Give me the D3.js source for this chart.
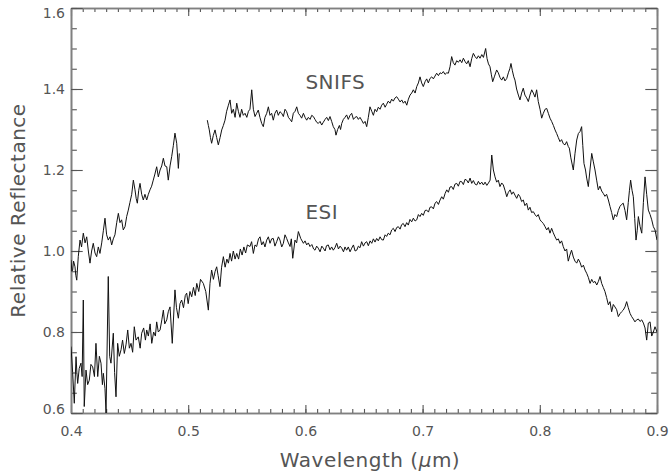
<!DOCTYPE html>
<html>
<head>
<meta charset="utf-8">
<script src="https://cdn.jsdelivr.net/npm/d3@7"></script>
<style>
  body { margin: 0; background: white; }
  svg { display: block; }
</style>
</head>
<body>
<div id="chart"></div>
<script>
// Axis ticks
const xMajor = [0.4, 0.5, 0.6, 0.7, 0.8, 0.9];
const xLabels = ["0.4", "0.5", "0.6", "0.7", "0.8", "0.9"];
const yMajor = [0.6, 0.8, 1.0, 1.2, 1.4, 1.6];
const yLabels = ["0.6", "0.8", "1.0", "1.2", "1.4", "1.6"];

// ESI spectrum
const esiWl = [
  0.4000,0.4014,0.4028,0.4043,0.4050,0.4057,0.4070,0.4085,0.4095,0.4105,0.4113,0.4128,0.4142,0.4156,0.4170,0.4185,0.4200,0.4213,0.4228,0.4242,
  0.4256,0.4268,0.4276,0.4290,0.4299,0.4318,0.4330,0.4341,0.4361,0.4372,0.4384,0.4398,0.4412,0.4427,0.4440,0.4455,0.4470,0.4484,0.4498,0.4512,
  0.4526,0.4540,0.4555,0.4574,0.4590,0.4603,0.4620,0.4635,0.4646,0.4660,0.4675,0.4689,0.4705,0.4720,0.4731,0.4745,0.4760,0.4775,0.4788,0.4800,
  0.4817,0.4830,0.4845,0.4864,0.4887,0.4900,0.4916,0.4930,0.4944,0.4960,0.4975,0.4987,0.5000,0.5015,0.5030,0.5045,0.5060,0.5073,0.5090,0.5105,
  0.5129,0.5150,0.5172,0.5186,0.5200,0.5215,0.5230,0.5243,0.5255,0.5271,0.5285,0.5300,0.5315,0.5330,0.5343,0.5357,0.5370,0.5385,0.5400,0.5414,
  0.5430,0.5445,0.5460,0.5475,0.5490,0.5505,0.5527,0.5541,0.5556,0.5570,0.5584,0.5600,0.5613,0.5627,0.5641,0.5655,0.5670,0.5684,0.5698,0.5712,
  0.5726,0.5740,0.5755,0.5770,0.5783,0.5798,0.5812,0.5826,0.5840,0.5855,0.5869,0.5880,0.5892,0.5911,0.5925,0.5940,0.5960,0.5983,0.5997,0.6011,
  0.6025,0.6039,0.6055,0.6070,0.6082,0.6096,0.6110,0.6125,0.6140,0.6153,0.6168,0.6180,0.6195,0.6210,0.6224,0.6238,0.6252,0.6267,0.6282,0.6296,
  0.6310,0.6325,0.6338,0.6352,0.6366,0.6381,0.6395,0.6410,0.6424,0.6438,0.6452,0.6466,0.6480,0.6495,0.6509,0.6523,0.6537,0.6552,0.6566,0.6580,
  0.6594,0.6608,0.6622,0.6637,0.6651,0.6665,0.6680,0.6693,0.6707,0.6722,0.6736,0.6750,0.6765,0.6779,0.6793,0.6808,0.6821,0.6835,0.6850,0.6864,
  0.6878,0.6892,0.6907,0.6921,0.6936,0.6950,0.6964,0.6978,0.6992,0.7006,0.7021,0.7035,0.7050,0.7063,0.7078,0.7092,0.7106,0.7120,0.7135,0.7149,
  0.7163,0.7177,0.7192,0.7206,0.7220,0.7234,0.7248,0.7262,0.7276,0.7291,0.7305,0.7320,0.7334,0.7348,0.7362,0.7376,0.7390,0.7405,0.7419,0.7433,
  0.7448,0.7462,0.7476,0.7490,0.7505,0.7519,0.7533,0.7548,0.7562,0.7576,0.7590,0.7604,0.7618,0.7632,0.7646,0.7660,0.7675,0.7689,0.7703,0.7718,
  0.7732,0.7747,0.7760,0.7774,0.7788,0.7803,0.7817,0.7831,0.7845,0.7859,0.7873,0.7888,0.7902,0.7916,0.7930,0.7945,0.7959,0.7973,0.7987,0.8002,
  0.8016,0.8030,0.8045,0.8059,0.8073,0.8087,0.8101,0.8115,0.8130,0.8144,0.8158,0.8172,0.8186,0.8200,0.8215,0.8229,0.8243,0.8257,0.8271,0.8286,
  0.8300,0.8315,0.8329,0.8343,0.8357,0.8372,0.8386,0.8400,0.8414,0.8429,0.8443,0.8457,0.8471,0.8486,0.8500,0.8514,0.8528,0.8542,0.8556,0.8570,
  0.8585,0.8599,0.8613,0.8627,0.8641,0.8656,0.8670,0.8684,0.8698,0.8712,0.8727,0.8741,0.8755,0.8770,0.8784,0.8798,0.8812,0.8826,0.8841,0.8855,
  0.8870,0.8884,0.8898,0.8912,0.8926,0.8941,0.8955,0.8969,0.8983,0.9000
];
const esiRefl = [
  0.764,0.700,0.624,0.739,0.700,0.673,0.710,0.723,0.690,0.879,0.616,0.706,0.670,0.681,0.720,0.714,0.690,0.772,0.690,0.740,
  0.723,0.670,0.698,0.660,0.600,0.937,0.740,0.723,0.797,0.700,0.640,0.772,0.740,0.756,0.780,0.747,0.770,0.805,0.760,0.772,
  0.750,0.813,0.780,0.788,0.760,0.797,0.810,0.780,0.805,0.790,0.820,0.772,0.800,0.790,0.825,0.800,0.805,0.830,0.854,0.820,
  0.830,0.850,0.862,0.772,0.904,0.860,0.834,0.870,0.879,0.860,0.890,0.896,0.870,0.900,0.887,0.910,0.890,0.920,0.900,0.930,
  0.920,0.900,0.854,0.920,0.953,0.930,0.950,0.961,0.940,0.912,0.960,0.986,0.960,0.980,0.970,0.994,0.975,1.000,0.980,0.994,
  0.980,1.005,0.990,1.010,0.995,1.015,1.011,1.023,0.994,1.015,1.011,1.030,1.035,1.015,1.023,1.010,1.027,1.035,1.019,1.030,
  1.031,1.012,1.023,1.035,1.027,1.010,1.019,1.040,1.031,1.020,1.011,1.030,0.982,1.027,1.020,1.048,1.031,1.019,1.025,1.015,
  1.020,1.011,1.016,1.005,1.002,1.012,1.007,0.998,1.012,1.007,1.000,1.013,1.015,1.003,1.010,1.002,1.008,1.019,1.005,1.012,
  1.007,0.998,1.010,1.002,1.010,0.998,1.007,1.015,1.000,1.002,1.012,1.008,1.023,1.012,1.020,1.023,1.013,1.025,1.019,1.030,
  1.022,1.031,1.025,1.035,1.028,1.027,1.040,1.036,1.044,1.040,1.052,1.056,1.048,1.058,1.060,1.054,1.065,1.068,1.060,1.070,
  1.064,1.078,1.072,1.081,1.074,1.077,1.090,1.085,1.093,1.088,1.100,1.101,1.096,1.108,1.109,1.104,1.118,1.122,1.115,1.126,
  1.134,1.128,1.142,1.151,1.145,1.158,1.159,1.152,1.165,1.167,1.160,1.172,1.171,1.164,1.177,1.175,1.168,1.180,1.167,1.174,
  1.165,1.163,1.172,1.165,1.170,1.163,1.170,1.162,1.168,1.175,1.237,1.200,1.183,1.170,1.175,1.159,1.168,1.163,1.150,1.134,
  1.145,1.151,1.140,1.146,1.138,1.130,1.140,1.134,1.122,1.126,1.112,1.118,1.101,1.108,1.095,1.097,1.090,1.085,1.090,1.077,
  1.072,1.068,1.060,1.052,1.058,1.044,1.056,1.045,1.035,1.027,1.030,1.019,1.025,1.011,1.000,1.005,0.975,0.990,1.002,0.985,
  0.975,0.970,0.980,0.972,0.960,0.965,0.953,0.945,0.935,0.920,0.930,0.922,0.925,0.916,0.925,0.937,0.920,0.910,0.900,0.885,
  0.867,0.875,0.850,0.868,0.862,0.855,0.838,0.845,0.850,0.854,0.862,0.875,0.860,0.846,0.838,0.832,0.825,0.830,0.832,0.826,
  0.830,0.822,0.810,0.780,0.822,0.825,0.790,0.800,0.813,0.800
];

// SNIFS spectrum, blue arm
const snifsBlueWl = [
  0.4000,0.4007,0.4014,0.4022,0.4034,0.4041,0.4049,0.4062,0.4077,0.4090,0.4105,0.4120,0.4134,0.4148,0.4162,0.4176,0.4190,0.4205,0.4219,0.4233,
  0.4247,0.4262,0.4276,0.4290,0.4304,0.4318,0.4333,0.4347,0.4361,0.4375,0.4390,0.4404,0.4418,0.4432,0.4446,0.4461,0.4475,0.4489,0.4503,0.4518,
  0.4532,0.4546,0.4556,0.4566,0.4578,0.4589,0.4603,0.4617,0.4631,0.4646,0.4660,0.4674,0.4688,0.4702,0.4716,0.4731,0.4745,0.4760,0.4774,0.4788,
  0.4802,0.4817,0.4830,0.4845,0.4859,0.4873,0.4887,0.4902,0.4916,0.4924
];
const snifsBlueRefl = [
  0.978,0.950,0.953,0.975,0.961,0.940,0.928,0.986,1.027,1.010,1.044,1.020,1.035,1.000,0.970,1.000,1.019,0.995,0.986,1.010,
  0.994,1.020,1.050,1.081,1.040,1.027,1.035,1.015,1.030,1.040,1.070,1.093,1.070,1.077,1.052,1.060,1.085,1.101,1.120,1.140,
  1.175,1.151,1.130,1.118,1.150,1.167,1.140,1.126,1.140,1.126,1.140,1.151,1.160,1.175,1.190,1.208,1.183,1.200,1.210,1.229,
  1.210,1.208,1.175,1.210,1.233,1.260,1.291,1.266,1.204,1.241
];

// SNIFS spectrum, red arm
const snifsRedWl = [
  0.5163,0.5172,0.5180,0.5190,0.5200,0.5214,0.5229,0.5243,0.5257,0.5272,0.5286,0.5300,0.5314,0.5328,0.5343,0.5357,0.5371,0.5385,0.5400,0.5414,
  0.5428,0.5442,0.5456,0.5470,0.5485,0.5500,0.5514,0.5527,0.5542,0.5556,0.5570,0.5584,0.5598,0.5612,0.5627,0.5641,0.5655,0.5670,0.5684,0.5698,
  0.5712,0.5726,0.5740,0.5755,0.5769,0.5783,0.5798,0.5812,0.5826,0.5840,0.5855,0.5869,0.5883,0.5897,0.5912,0.5926,0.5940,0.5954,0.5968,0.5983,
  0.5997,0.6011,0.6025,0.6040,0.6054,0.6068,0.6082,0.6096,0.6110,0.6125,0.6139,0.6153,0.6168,0.6182,0.6196,0.6210,0.6224,0.6238,0.6252,0.6261,
  0.6275,0.6290,0.6300,0.6310,0.6324,0.6338,0.6352,0.6366,0.6381,0.6395,0.6410,0.6424,0.6438,0.6452,0.6466,0.6480,0.6495,0.6509,0.6523,0.6537,
  0.6551,0.6566,0.6580,0.6594,0.6608,0.6622,0.6637,0.6651,0.6665,0.6680,0.6693,0.6707,0.6722,0.6736,0.6750,0.6765,0.6779,0.6793,0.6808,0.6822,
  0.6836,0.6850,0.6865,0.6879,0.6893,0.6907,0.6921,0.6936,0.6950,0.6964,0.6978,0.6992,0.7006,0.7021,0.7035,0.7049,0.7063,0.7078,0.7092,0.7106,
  0.7120,0.7135,0.7149,0.7163,0.7177,0.7191,0.7206,0.7220,0.7234,0.7248,0.7262,0.7276,0.7291,0.7305,0.7320,0.7334,0.7348,0.7362,0.7376,0.7390,
  0.7405,0.7419,0.7433,0.7448,0.7462,0.7476,0.7490,0.7505,0.7519,0.7538,0.7550,0.7562,0.7575,0.7587,0.7598,0.7612,0.7632,0.7646,0.7661,0.7675,
  0.7689,0.7703,0.7718,0.7732,0.7744,0.7754,0.7766,0.7778,0.7788,0.7802,0.7817,0.7831,0.7845,0.7859,0.7873,0.7888,0.7902,0.7916,0.7931,0.7945,
  0.7959,0.7973,0.7987,0.8002,0.8016,0.8030,0.8045,0.8059,0.8073,0.8087,0.8101,0.8116,0.8130,0.8144,0.8158,0.8172,0.8186,0.8200,0.8215,0.8229,
  0.8243,0.8252,0.8265,0.8286,0.8300,0.8315,0.8329,0.8343,0.8357,0.8367,0.8377,0.8390,0.8400,0.8414,0.8428,0.8443,0.8457,0.8471,0.8485,0.8499,
  0.8513,0.8528,0.8542,0.8556,0.8570,0.8585,0.8599,0.8613,0.8627,0.8641,0.8656,0.8670,0.8684,0.8698,0.8712,0.8727,0.8741,0.8755,0.8765,0.8775,
  0.8787,0.8798,0.8810,0.8821,0.8831,0.8841,0.8856,0.8870,0.8884,0.8898,0.8912,0.8926,0.8941,0.8955,0.8969,0.8983,0.8991,0.9000
];
const snifsRedRefl = [
  1.323,1.310,1.299,1.280,1.266,1.285,1.299,1.280,1.262,1.280,1.299,1.310,1.323,1.345,1.360,1.373,1.340,1.350,1.330,1.365,
  1.345,1.330,1.350,1.335,1.340,1.330,1.345,1.350,1.398,1.350,1.332,1.340,1.348,1.330,1.315,1.307,1.330,1.340,1.356,1.335,
  1.340,1.323,1.340,1.348,1.335,1.344,1.340,1.332,1.350,1.344,1.330,1.325,1.319,1.340,1.345,1.356,1.340,1.335,1.328,1.340,
  1.330,1.323,1.330,1.325,1.335,1.332,1.325,1.318,1.315,1.320,1.311,1.318,1.325,1.330,1.322,1.332,1.320,1.307,1.300,1.286,
  1.300,1.310,1.300,1.315,1.325,1.330,1.336,1.325,1.335,1.340,1.325,1.330,1.332,1.325,1.330,1.323,1.315,1.320,1.307,1.330,
  1.356,1.345,1.335,1.350,1.344,1.355,1.350,1.360,1.365,1.355,1.362,1.370,1.365,1.375,1.370,1.378,1.381,1.375,1.368,1.373,
  1.365,1.370,1.360,1.375,1.385,1.390,1.398,1.390,1.406,1.415,1.430,1.415,1.406,1.418,1.425,1.415,1.426,1.430,1.425,1.432,
  1.439,1.433,1.440,1.438,1.443,1.436,1.440,1.439,1.455,1.480,1.465,1.459,1.470,1.466,1.472,1.465,1.476,1.468,1.462,1.470,
  1.455,1.475,1.488,1.480,1.475,1.482,1.476,1.485,1.478,1.500,1.475,1.462,1.455,1.435,1.418,1.430,1.447,1.440,1.428,1.422,
  1.430,1.420,1.426,1.440,1.450,1.463,1.445,1.430,1.422,1.400,1.385,1.373,1.390,1.402,1.385,1.378,1.369,1.385,1.398,1.390,
  1.380,1.398,1.369,1.350,1.328,1.340,1.350,1.352,1.340,1.328,1.320,1.310,1.299,1.290,1.280,1.270,1.275,1.265,1.262,1.270,
  1.258,1.254,1.230,1.200,1.240,1.274,1.290,1.295,1.307,1.260,1.216,1.200,1.180,1.159,1.200,1.241,1.220,1.200,1.175,1.151,
  1.160,1.148,1.142,1.135,1.140,1.126,1.110,1.095,1.077,1.090,1.085,1.100,1.110,1.115,1.118,1.100,1.077,1.120,1.150,1.175,
  1.150,1.134,1.080,1.027,1.050,1.085,1.060,1.044,1.120,1.183,1.140,1.101,1.090,1.077,1.060,1.052,1.040,1.027
];

// Series labels
const seriesLabels = [
  { text: "SNIFS", wl: 0.6, refl: 1.4 },
  { text: "ESI", wl: 0.6, refl: 1.08 }
];

const W = 669, H = 475;
const margin = { top: 8, right: 12, bottom: 62, left: 71 };
const width = W - margin.left - margin.right;
const height = H - margin.top - margin.bottom;

const axisColor = "#808080";
const textColor = "#555";
const font = "'DejaVu Sans', sans-serif";

const svg = d3.select("#chart").append("svg")
  .attr("width", W).attr("height", H);
const g = svg.append("g").attr("transform", `translate(${margin.left},${margin.top})`);

const x = d3.scaleLinear().domain([0.4, 0.9]).range([0, width]);
const y = d3.scaleLinear().domain([0.6, 1.6]).range([height, 0]);

// IDL style tick lengths: 2% of the plot, minor half
const xTick = 0.02 * height, yTick = 0.02 * width;
const xMinor = d3.range(0, 51).map(i => 0.4 + i * 0.01);
const yMinor = d3.range(0, 21).map(i => 0.6 + i * 0.05);

function styleAxis(sel) {
  sel.selectAll(".domain").attr("stroke", axisColor).attr("stroke-width", 1.6);
  sel.selectAll(".tick line").attr("stroke", "#555").attr("stroke-width", 1.1);
  sel.selectAll(".tick text")
    .attr("fill", textColor)
    .style("font-family", font)
    .style("font-size", "14px");
}

// minor ticks
g.append("g").attr("transform", `translate(0,${height})`)
  .call(d3.axisBottom(x).tickValues(xMinor).tickSize(-xTick / 2).tickSizeOuter(0).tickFormat(""))
  .call(styleAxis);
g.append("g")
  .call(d3.axisTop(x).tickValues(xMinor).tickSize(-xTick / 2).tickSizeOuter(0).tickFormat(""))
  .call(styleAxis);
g.append("g")
  .call(d3.axisLeft(y).tickValues(yMinor).tickSize(-yTick / 2).tickSizeOuter(0).tickFormat(""))
  .call(styleAxis);
g.append("g").attr("transform", `translate(${width},0)`)
  .call(d3.axisRight(y).tickValues(yMinor).tickSize(-yTick / 2).tickSizeOuter(0).tickFormat(""))
  .call(styleAxis);

// major ticks
g.append("g").attr("transform", `translate(0,${height})`)
  .call(d3.axisBottom(x).tickValues(xMajor).tickSize(-xTick).tickSizeOuter(0)
    .tickPadding(13).tickFormat((d, i) => xLabels[i]))
  .call(styleAxis);
g.append("g")
  .call(d3.axisTop(x).tickValues(xMajor).tickSize(-xTick).tickSizeOuter(0).tickFormat(""))
  .call(styleAxis);
g.append("g")
  .call(d3.axisLeft(y).tickValues(yMajor).tickSize(-yTick).tickSizeOuter(0)
    .tickPadding(6).tickFormat((d, i) => yLabels[i]))
  .call(styleAxis)
  .call(a => {
    // keep the end labels inside the frame like IDL does
    a.selectAll(".tick text").attr("dy", d => d === 1.6 ? "0.68em" : d === 0.6 ? "0.05em" : "0.32em");
  });
g.append("g").attr("transform", `translate(${width},0)`)
  .call(d3.axisRight(y).tickValues(yMajor).tickSize(-yTick).tickSizeOuter(0).tickFormat(""))
  .call(styleAxis);

// Spectra
g.append("clipPath").attr("id", "plot-clip")
  .append("rect").attr("width", width).attr("height", height);

const line = d3.line().x(d => x(d[0])).y(d => y(d[1]));
const series = [
  d3.zip(esiWl, esiRefl),
  d3.zip(snifsBlueWl, snifsBlueRefl),
  d3.zip(snifsRedWl, snifsRedRefl)
];

g.append("g").attr("clip-path", "url(#plot-clip)")
  .selectAll("path").data(series).enter()
  .append("path")
  .attr("fill", "none")
  .attr("stroke", "#111")
  .attr("stroke-width", 1)
  .attr("stroke-linejoin", "round")
  .attr("d", line);

// Labels on the curves
g.selectAll("text.series").data(seriesLabels).enter()
  .append("text")
  .attr("class", "series")
  .attr("x", d => x(d.wl))
  .attr("y", d => y(d.refl))
  .attr("fill", textColor)
  .style("font-family", font)
  .style("font-size", "20px")
  .style("letter-spacing", "0.5px")
  .text(d => d.text);

// Axis titles
const xTitle = svg.append("text")
  .attr("x", margin.left + width / 2 + 6)
  .attr("y", 467)
  .attr("text-anchor", "middle")
  .attr("fill", textColor)
  .style("font-family", font)
  .style("font-size", "20px")
  .style("letter-spacing", "0.5px");
xTitle.append("tspan").text("Wavelength (");
xTitle.append("tspan").style("font-style", "italic").text("\u03bc");
xTitle.append("tspan").text("m)");

svg.append("text")
  .attr("transform", `translate(25,${margin.top + height / 2}) rotate(-90)`)
  .attr("text-anchor", "middle")
  .attr("fill", textColor)
  .style("font-family", font)
  .style("font-size", "20px")
  .style("letter-spacing", "0.5px")
  .text("Relative Reflectance");
</script>
</body>
</html>
